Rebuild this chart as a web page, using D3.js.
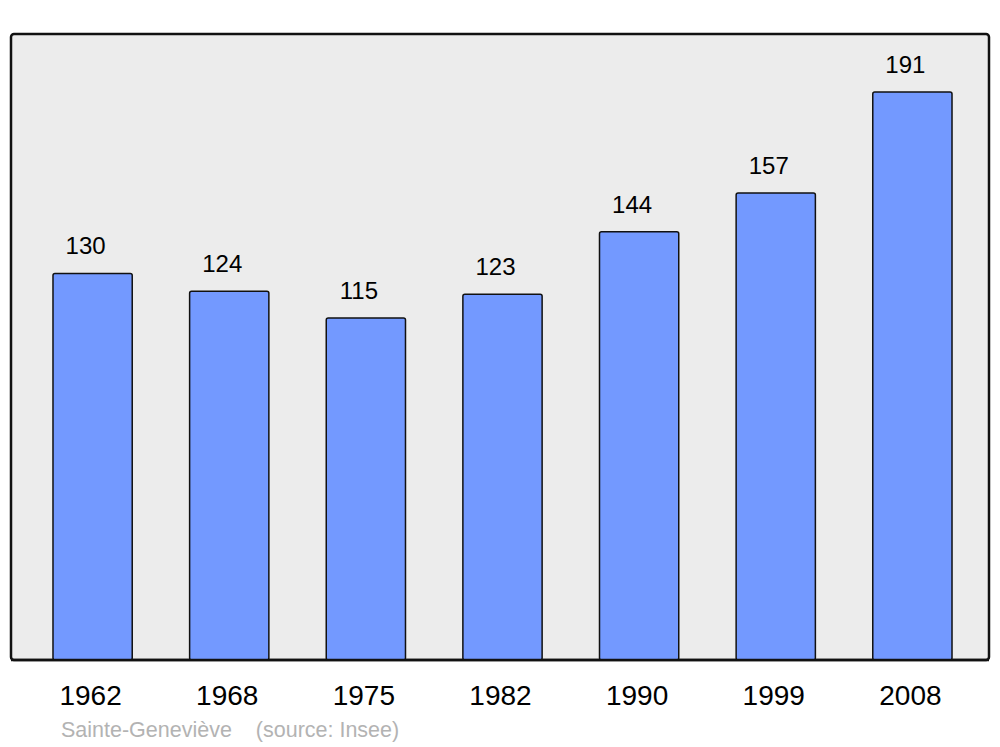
<!DOCTYPE html>
<html>
<head>
<meta charset="utf-8">
<script src="https://cdn.jsdelivr.net/npm/d3@7"></script>
<style>
  body { margin: 0; background: #fff; }
  svg { display: block; font-family: "Liberation Sans", Arial, sans-serif; }
</style>
</head>
<body>
<div id="viz"></div>
<script>
// population by census year
var years = ["1962", "1968", "1975", "1982", "1990", "1999", "2008"];
var population = [130, 124, 115, 123, 144, 157, 191];

var width = 1000,
    height = 747;

var svg = d3.select("div#viz").append("svg")
    .attr("width", width)
    .attr("height", height);

var x = d3.scaleBand()
    .domain(years)
    .range([12, 993])
    .paddingInner(0.42)
    .paddingOuter(0.3);

var y = d3.scaleLinear()
    .domain([0, d3.max(population)])
    .range([660, 92]);

// grey frame
svg.append("rect")
    .attr("x", 11)
    .attr("y", 34)
    .attr("width", 978)
    .attr("height", 626)
    .attr("rx", 3)
    .attr("fill", "#ececec")
    .attr("stroke", "#111")
    .attr("stroke-width", 2.5);

var data = years.map(function(d, i) { return {year: d, value: population[i]}; });

svg.append("g").selectAll("rect")
    .data(data)
    .enter().append("rect")
    .attr("x", function(d) { return x(d.year); })
    .attr("y", function(d) { return y(d.value); })
    .attr("width", x.bandwidth())
    .attr("height", function(d) { return y(0) - y(d.value); })
    .attr("rx", 2)
    .attr("fill", "#7399ff")
    .attr("stroke", "#111")
    .attr("stroke-width", 1.5);

// redraw bottom line over bars
svg.append("line")
    .attr("x1", 11).attr("x2", 989)
    .attr("y1", 660).attr("y2", 660)
    .attr("stroke", "#111")
    .attr("stroke-width", 2.5);

svg.append("g").selectAll("text")
    .data(data)
    .enter().append("text")
    .attr("x", function(d) { return x(d.year) + x.bandwidth() / 2 - 7; })
    .attr("y", function(d) { return y(d.value) - 19; })
    .attr("text-anchor", "middle")
    .attr("font-size", 24)
    .attr("fill", "#000")
    .text(function(d) { return d.value; });

svg.append("g").selectAll("text")
    .data(years)
    .enter().append("text")
    .attr("x", function(d) { return x(d) + x.bandwidth() / 2 - 2; })
    .attr("y", 705)
    .attr("text-anchor", "middle")
    .attr("font-size", 28)
    .attr("fill", "#000")
    .text(function(d) { return d; });

svg.append("text")
    .attr("x", 61)
    .attr("y", 737)
    .attr("font-size", 21.5)
    .attr("fill", "#b3b3b3")
    .attr("xml:space", "preserve")
    .style("white-space", "pre")
    .text("Sainte-Geneviève    (source: Insee)");
</script>
</body>
</html>
